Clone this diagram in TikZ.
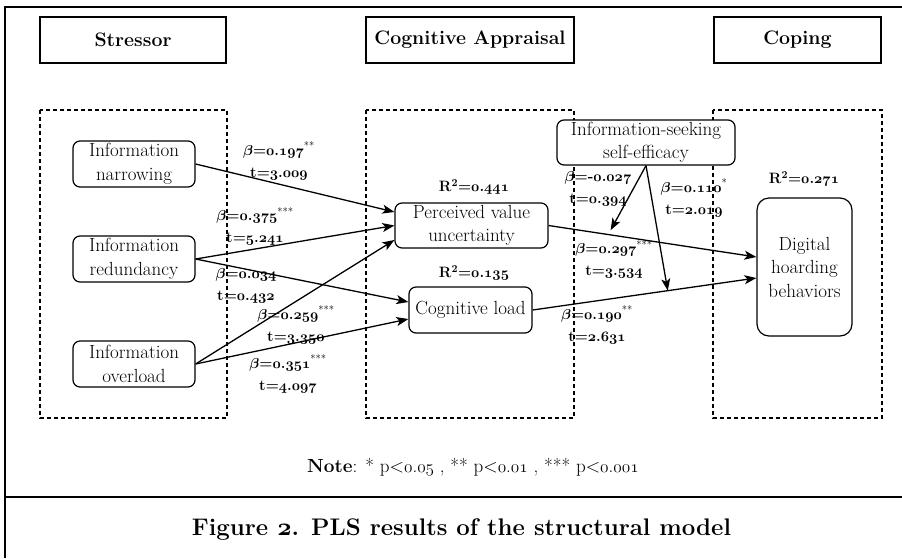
\documentclass[tikz,border=0pt]{standalone}
\usetikzlibrary{arrows.meta}

% old-style figures taken from the math italic font
\newcommand\onb[1]{{\usefont{OML}{cmm}{b}{it}#1}}
\newcommand\onm[1]{{\usefont{OML}{cmm}{m}{it}#1}}
\newcommand\dec[2]{\onb{#1}.\onb{#2}}
\newcommand\decm[2]{\onm{#1}.\onm{#2}}
\newcommand\sig[1]{\textsuperscript{\mdseries #1}}

\begin{document}
\begin{tikzpicture}[x=1pt,y=-1pt,
  outline/.style={line width=2.8pt},
  head/.style={draw, line width=1.2pt, inner sep=0pt, minimum height=46pt,
    font=\bfseries\fontsize{19.5}{22}\selectfont},
  group/.style={draw, line width=1.1pt, dash pattern=on 4pt off 3pt},
  box/.style={draw, line width=1.2pt, rounded corners=7pt, fill=white,
    align=center, inner sep=0pt, font=\fontsize{19}{23.5}\selectfont},
  coef/.style={align=center, inner sep=0pt,
    font=\bfseries\boldmath\fontsize{15}{22}\selectfont},
  link/.style={-{Stealth[length=12pt,width=9pt,inset=3pt]}, line width=1.3pt}]

\useasboundingbox (0,0) rectangle (902,558);

% outer frame and caption rule
\draw[outline] (5,558) -- (5,7) -- (902,7);
\draw[outline] (5,497) -- (902,497);

% stage headings
\node[head, minimum width=186pt] (hstress) at (133,40) {Stressor};
\node[head, minimum width=208pt] (happr) at (470,40) {Cognitive Appraisal};
\node[head, minimum width=167pt] (hcope) at (797.5,40) {Coping};

% dashed stage groups
\draw[group] (40,110) rectangle (227,418);
\draw[group] (366,110) rectangle (574,418);
\draw[group] (713,110) rectangle (882,418);

% constructs
\node[box, minimum width=122pt, minimum height=46pt] (nar) at (134,164) {Information\\narrowing};
\node[box, minimum width=122pt, minimum height=46pt] (red) at (134,259) {Information\\redundancy};
\node[box, minimum width=122pt, minimum height=46pt] (ovl) at (134,364) {Information\\overload};
\node[box, minimum width=153pt, minimum height=45pt] (pvu) at (471.5,225.5) {Perceived value\\uncertainty};
\node[box, minimum width=123pt, minimum height=46pt] (cl) at (470.5,310) {Cognitive load};
\node[box, minimum width=178pt, minimum height=45pt] (isse) at (646,142.5) {Information-seeking\\self-efficacy};
\node[box, minimum width=95pt, minimum height=138pt, rounded corners=12pt] (dhb) at (804.5,267) {Digital\\hoarding\\behaviors};

% structural paths
\draw[link] (nar.east) -- ([yshift=13.5pt]pvu.west);
\draw[link] (red.east) -- (pvu.west);
\draw[link] (red.east) -- ([yshift=8pt]cl.west);
\draw[link] (ovl.east) -- ([yshift=-14.5pt]pvu.west);
\draw[link] (ovl.east) -- ([yshift=-9pt]cl.west);
\draw[link] (pvu.east) -- coordinate[pos=0.287] (m1) ([yshift=10pt]dhb.west);
\draw[link] (cl.east) -- coordinate[pos=0.604] (m2) ([yshift=-11pt]dhb.west);

% moderating paths
\draw[link, shorten >=5pt] (isse.south) -- (m1);
\draw[link] (isse.south) -- (m2);

% path coefficients
\node[coef] (c1) at (279,161) {$\beta$=\dec{0}{197}\sig{**}\\t=\dec{3}{009}};
\node[coef] (c2) at (255,226.5) {$\beta$=\dec{0}{375}\sig{***}\\t=\dec{5}{241}};
\node[coef] (c3) at (246,286) {$\beta$=\dec{0}{034}\\t=\dec{0}{432}};
\node[coef] (c4) at (296,325) {$\beta$=\dec{0}{259}\sig{***}\\t=\dec{3}{350}};
\node[coef] (c5) at (288,374) {$\beta$=\dec{0}{351}\sig{***}\\t=\dec{4}{097}};
\node[coef] (c6) at (598,189) {$\beta$=-\dec{0}{027}\\t=\dec{0}{394}};
\node[coef] (c7) at (694,198) {$\beta$=\dec{0}{110}\sig{*}\\t=\dec{2}{019}};
\node[coef] (c8) at (614,259.5) {$\beta$=\dec{0}{297}\sig{***}\\t=\dec{3}{534}};
\node[coef] (c9) at (597,325) {$\beta$=\dec{0}{190}\sig{**}\\t=\dec{2}{631}};

% explained variance
\node[coef] (r1) at (474,187) {R\textsuperscript{2}=\dec{0}{441}};
\node[coef] (r2) at (474,273) {R\textsuperscript{2}=\dec{0}{135}};
\node[coef] (r3) at (804,179) {R\textsuperscript{2}=\dec{0}{271}};

% note and caption
\node[font=\fontsize{19}{22}\selectfont] (note) at (473,467)
  {\textbf{Note}:\hspace{8pt}* p<\decm{0}{05} , ** p<\decm{0}{01} , *** p<\decm{0}{001}};
\node[font=\bfseries\fontsize{24}{28}\selectfont] (title) at (461.5,530)
  {Figure \onb{2}. PLS results of the structural model};
\end{tikzpicture}
\end{document}
